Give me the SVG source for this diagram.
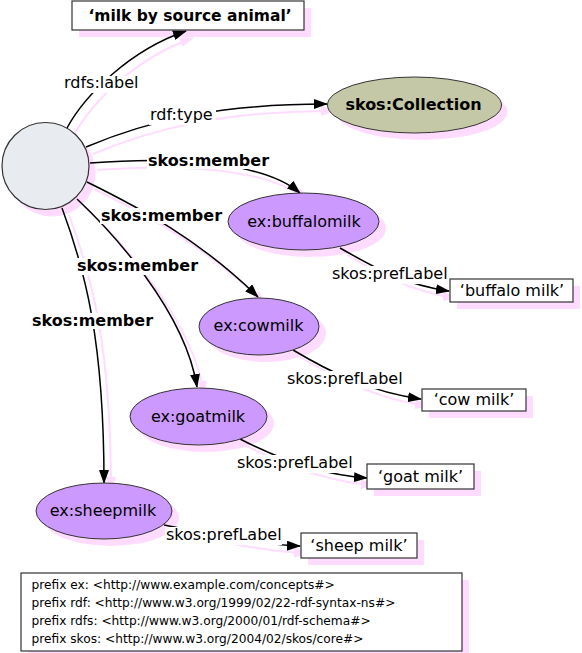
<svg xmlns="http://www.w3.org/2000/svg" width="582" height="653" viewBox="0 0 582 653">
<style>
text{font-family:"DejaVu Sans","Verdana",sans-serif;fill:#000}
.lbl{font-size:16px}
.bold{font-size:16px;font-weight:bold}
.node{font-size:16px;text-anchor:middle}
.lit{font-size:16px;text-anchor:middle}
.pre{font-size:12.2px}
.sh{fill:#ffdcff;stroke:none}
.esh{fill:none;stroke:#ffdcff;stroke-width:2}
.edge{fill:none;stroke:#000;stroke-width:1.5}
.ell{fill:#cc99ff;stroke:#333;stroke-width:1}
.box{fill:#fff;stroke:#333;stroke-width:1.2}
.bg{fill:#fff}
</style>
<defs>
<marker id="arr" markerUnits="userSpaceOnUse" markerWidth="14" markerHeight="10" refX="13" refY="5" orient="auto">
<path d="M0,0 L14,5 L0,10 Z" fill="#000"/>
</marker>
<marker id="arrsh" markerUnits="userSpaceOnUse" markerWidth="14" markerHeight="10" refX="13" refY="5" orient="auto">
<path d="M0,0 L14,5 L0,10 Z" fill="#ffdcff"/>
</marker>
</defs>
<g id="shadows">
<rect class="sh" x="79" y="8" width="232" height="29"/>
<circle class="sh" cx="52" cy="173" r="43.5"/>
<ellipse class="sh" cx="421.5" cy="112" rx="86" ry="28"/>
<ellipse class="sh" cx="310.5" cy="228.5" rx="75.5" ry="28.5"/>
<ellipse class="sh" cx="266" cy="333.5" rx="60" ry="28.5"/>
<ellipse class="sh" cx="205.5" cy="423.5" rx="68.5" ry="28.5"/>
<ellipse class="sh" cx="111" cy="518" rx="68" ry="28"/>
<rect class="sh" x="457" y="286" width="123" height="23"/>
<rect class="sh" x="429" y="396" width="104" height="22"/>
<rect class="sh" x="374" y="471" width="107" height="25"/>
<rect class="sh" x="308" y="540" width="116" height="25"/>
<rect class="sh" x="28" y="580" width="441" height="78"/>
<g transform="translate(7,7)">
<path class="esh" marker-end="url(#arrsh)" d="M67,128 C85,95 130,50 186,31"/>
<path class="esh" marker-end="url(#arrsh)" d="M86,147 C150,120 220,104 327,104"/>
<path class="esh" marker-end="url(#arrsh)" d="M90,163 C180,156 265,163 300,193"/>
<path class="esh" marker-end="url(#arrsh)" d="M87,182 C140,208 200,240 258,297"/>
<path class="esh" marker-end="url(#arrsh)" d="M77,199 C110,230 185,310 197,387"/>
<path class="esh" marker-end="url(#arrsh)" d="M62,208 C85,270 104,340 104,483"/>
<path class="esh" marker-end="url(#arrsh)" d="M340,248 C375,268 405,285 449,291"/>
<path class="esh" marker-end="url(#arrsh)" d="M293,350 C330,372 370,392 421,399"/>
<path class="esh" marker-end="url(#arrsh)" d="M240,439 C275,457 320,475 367,478"/>
<path class="esh" marker-end="url(#arrsh)" d="M164,525 C200,532 260,545 300,546"/>
</g>
</g>
<g id="connectors">
<path class="edge" marker-end="url(#arr)" d="M67,128 C85,95 130,50 186,31"/>
<path class="edge" marker-end="url(#arr)" d="M86,147 C150,120 220,104 327,104"/>
<path class="edge" marker-end="url(#arr)" d="M90,163 C180,156 265,163 300,193"/>
<path class="edge" marker-end="url(#arr)" d="M87,182 C140,208 200,240 258,297"/>
<path class="edge" marker-end="url(#arr)" d="M77,199 C110,230 185,310 197,387"/>
<path class="edge" marker-end="url(#arr)" d="M62,208 C85,270 104,340 104,483"/>
<path class="edge" marker-end="url(#arr)" d="M340,248 C375,268 405,285 449,291"/>
<path class="edge" marker-end="url(#arr)" d="M293,350 C330,372 370,392 421,399"/>
<path class="edge" marker-end="url(#arr)" d="M240,439 C275,457 320,475 367,478"/>
<path class="edge" marker-end="url(#arr)" d="M164,525 C200,532 260,545 300,546"/>
<rect class="bg" x="63" y="76" width="78" height="17"/>
<text class="lbl" x="64" y="88">rdfs:label</text>
<rect class="bg" x="149" y="107" width="67" height="18"/>
<text class="lbl" x="150" y="120">rdf:type</text>
<rect class="bg" x="147" y="153" width="123" height="16"/>
<text class="bold" x="148" y="166">skos:member</text>
<rect class="bg" x="100" y="208" width="123" height="16"/>
<text class="bold" x="101" y="221">skos:member</text>
<rect class="bg" x="76" y="258" width="123" height="17"/>
<text class="bold" x="77" y="271">skos:member</text>
<rect class="bg" x="31" y="313" width="123" height="16"/>
<text class="bold" x="32" y="326">skos:member</text>
<rect class="bg" x="331" y="266" width="117" height="18"/>
<text class="lbl" x="332" y="279">skos:prefLabel</text>
<rect class="bg" x="286" y="371" width="119" height="18"/>
<text class="lbl" x="287" y="384">skos:prefLabel</text>
<rect class="bg" x="236" y="455" width="118" height="18"/>
<text class="lbl" x="237" y="468">skos:prefLabel</text>
<rect class="bg" x="165" y="527" width="117" height="18"/>
<text class="lbl" x="166" y="540">skos:prefLabel</text>
</g>
<g id="collection-root">
<circle cx="45.5" cy="166" r="43.5" fill="#e8ebf0" stroke="#333" stroke-width="1.2"/>
</g>
<g id="label-top">
<rect class="box" x="72" y="1" width="232" height="29"/>
<text x="190" y="21" style="font-size:15.5px;font-weight:bold;text-anchor:middle">‘milk by source animal’</text>
</g>
<g id="skos-collection">
<ellipse cx="414.5" cy="105" rx="87" ry="28" fill="#c5c8a6" stroke="#333" stroke-width="1"/>
<text x="413.5" y="110" style="font-size:16px;font-weight:bold;text-anchor:middle">skos:Collection</text>
</g>
<g id="buffalomilk">
<ellipse class="ell" cx="303.5" cy="221.5" rx="75.5" ry="28.5"/>
<text class="node" x="304" y="227">ex:buffalomilk</text>
</g>
<g id="cowmilk">
<ellipse class="ell" cx="259" cy="326.5" rx="60" ry="28.5"/>
<text class="node" x="258.5" y="331">ex:cowmilk</text>
</g>
<g id="goatmilk">
<ellipse class="ell" cx="198.5" cy="416.5" rx="68.5" ry="28.5"/>
<text class="node" x="198" y="422">ex:goatmilk</text>
</g>
<g id="sheepmilk">
<ellipse class="ell" cx="104" cy="511" rx="68" ry="28"/>
<text class="node" x="103" y="516">ex:sheepmilk</text>
</g>
<g id="lit-buffalo">
<rect class="box" x="450" y="279" width="123" height="23"/>
<text class="lit" x="512" y="296">‘buffalo milk’</text>
</g>
<g id="lit-cow">
<rect class="box" x="422" y="389" width="104" height="22"/>
<text class="lit" x="474" y="405">‘cow milk’</text>
</g>
<g id="lit-goat">
<rect class="box" x="367" y="464" width="107" height="25"/>
<text class="lit" x="420.5" y="482">‘goat milk’</text>
</g>
<g id="lit-sheep">
<rect class="box" x="301" y="533" width="116" height="25"/>
<text class="lit" x="359" y="551">‘sheep milk’</text>
</g>
<g id="prefixes">
<rect class="box" x="21" y="573" width="441" height="78"/>
<text class="pre" x="31.5" y="589">prefix ex: &lt;http://www.example.com/concepts#&gt;</text>
<text class="pre" x="31.5" y="607">prefix rdf: &lt;http://www.w3.org/1999/02/22-rdf-syntax-ns#&gt;</text>
<text class="pre" x="31.5" y="625">prefix rdfs: &lt;http://www.w3.org/2000/01/rdf-schema#&gt;</text>
<text class="pre" x="31.5" y="643">prefix skos: &lt;http://www.w3.org/2004/02/skos/core#&gt;</text>
</g>
</svg>
